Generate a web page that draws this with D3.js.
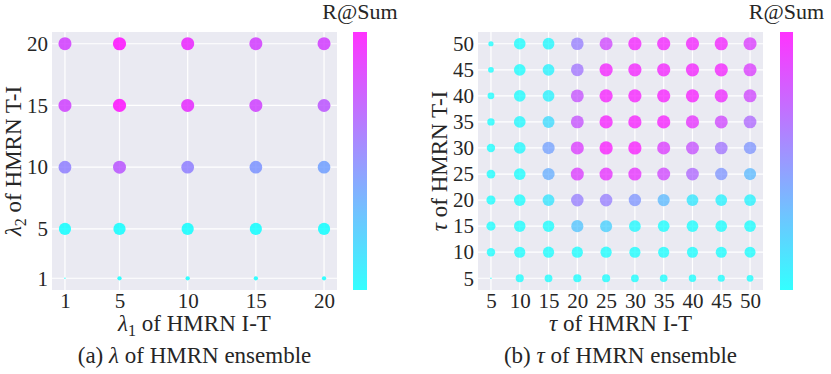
<!DOCTYPE html>
<html>
<head>
<meta charset="utf-8">
<script src="https://cdn.jsdelivr.net/npm/d3@7"></script>
<style>
  body { margin: 0; background: #fff; }
  svg text { font-family: "Liberation Serif", "Times New Roman", serif; fill: #262626; }
</style>
</head>
<body>
<div id="chart"></div>
<script>
// (a) lambda of HMRN ensemble: rows are lambda2 (T-I), columns are lambda1 (I-T)
const lambdaValues = [1, 5, 10, 15, 20];
const lambdaScores = [
  [440.0, 447.8, 447.8, 447.8, 447.8],   // lambda2 = 1
  [509.7, 510.0, 510.0, 510.0, 509.8],   // 5
  [516.4, 518.5, 516.4, 515.4, 514.8],   // 10
  [519.6, 522.0, 520.8, 519.6, 518.6],   // 15
  [519.8, 522.0, 521.0, 519.8, 519.8]    // 20
];

// (b) tau of HMRN ensemble: rows are tau T-I, columns are tau I-T
const tauValues = [5, 10, 15, 20, 25, 30, 35, 40, 45, 50];
const tauScores = [
  [420.0, 456.0, 453.0, 456.0, 456.0, 453.0, 452.0, 450.0, 448.0, 445.0],  // 5
  [459.0, 490.0, 491.0, 491.0, 491.0, 490.0, 490.0, 489.0, 489.0, 488.0],  // 10
  [466.0, 494.0, 495.0, 502.8, 501.6, 497.5, 497.0, 496.5, 496.0, 495.5],  // 15
  [466.0, 496.0, 499.5, 509.7, 509.7, 507.4, 503.9, 499.3, 498.2, 498.0],  // 20
  [463.0, 497.0, 505.0, 516.6, 517.7, 517.7, 515.4, 512.0, 507.4, 503.9],  // 25
  [459.0, 497.5, 506.2, 516.6, 519.5, 519.5, 516.6, 514.3, 510.8, 507.4],  // 30
  [450.0, 497.5, 500.5, 514.3, 519.3, 519.3, 519.3, 517.7, 515.4, 512.0],  // 35
  [445.0, 497.2, 498.2, 514.3, 519.3, 519.3, 519.3, 519.3, 518.4, 515.4],  // 40
  [438.0, 497.0, 498.0, 510.8, 518.9, 518.9, 518.9, 518.9, 518.9, 516.6],  // 45
  [434.0, 496.5, 497.5, 509.7, 515.4, 518.9, 518.9, 518.9, 518.9, 516.6]   // 50
];

const colorbarTitle = 'R@Sum';

class GridScatter {
    constructor(_config, _ticks, _scores) {
        this.config = _config;
        this.ticks = _ticks;
        this.scores = _scores;
        this.initVis();
        this.updateVis();
    }

    initVis() {
        let vis = this;
        const c = vis.config;

        vis.width = c.plot.right - c.plot.left;
        vis.height = c.plot.bottom - c.plot.top;

        vis.g = c.svg.append('g');

        // seaborn style background
        vis.g.append('rect')
            .attr('x', c.plot.left)
            .attr('y', c.plot.top)
            .attr('width', vis.width)
            .attr('height', vis.height)
            .attr('fill', '#eaeaf2');

        vis.xScale = d3.scaleLinear().range([c.plot.left, c.plot.right]);
        vis.yScale = d3.scaleLinear().range([c.plot.bottom, c.plot.top]);

        vis.colorScale = d3.scaleLinear()
            .domain(c.colorDomain)
            .range(['#00ffff', '#ff00ff'])  // matplotlib "cool"
            .clamp(true);

        vis.sizeScale = d3.scaleRadial()
            .domain(c.sizeDomain)
            .range(c.radius)
            .clamp(true);

        vis.gridG = vis.g.append('g');
        vis.pointG = vis.g.append('g');

        vis.xAxisG = vis.g.append('g')
            .attr('transform', `translate(0,${c.plot.bottom})`);
        vis.yAxisG = vis.g.append('g')
            .attr('transform', `translate(${c.plot.left},0)`);

        // x axis title
        const xt = vis.g.append('text')
            .attr('x', (c.plot.left + c.plot.right) / 2)
            .attr('y', c.xTitleY)
            .attr('text-anchor', 'middle')
            .style('font-size', '23px');
        vis.addParts(xt, c.xTitle);

        // y axis title
        const yt = vis.g.append('text')
            .attr('transform', `translate(${c.yTitleX},${(c.plot.top + c.plot.bottom) / 2}) rotate(-90)`)
            .attr('text-anchor', 'middle')
            .style('font-size', '23px');
        vis.addParts(yt, c.yTitle);

        // caption under the panel
        const cap = vis.g.append('text')
            .attr('x', (c.plot.left + c.plot.right) / 2)
            .attr('y', c.captionY)
            .attr('text-anchor', 'middle')
            .style('font-size', '23px');
        vis.addParts(cap, c.caption);

        // colorbar
        const grad = c.svg.append('defs').append('linearGradient')
            .attr('id', c.id + '-grad')
            .attr('x1', 0).attr('x2', 0).attr('y1', 1).attr('y2', 0);
        d3.range(0, 1.001, 0.1).forEach(t => {
            grad.append('stop')
                .attr('offset', t)
                .attr('stop-color', d3.interpolateRgb('#00ffff', '#ff00ff')(t));
        });
        vis.g.append('rect')
            .attr('x', c.cbar.x)
            .attr('y', c.plot.top)
            .attr('width', c.cbar.w)
            .attr('height', vis.height)
            .attr('fill', `url(#${c.id}-grad)`)
            .attr('opacity', 0.8);

        vis.g.append('text')
            .attr('x', c.cbar.x + c.cbar.w / 2)
            .attr('y', 19)
            .attr('text-anchor', 'middle')
            .style('font-size', '22px')
            .text(colorbarTitle);
    }

    addParts(textSel, parts) {
        parts.forEach(p => {
            const ts = textSel.append('tspan').text(p.text);
            if (p.italic) ts.style('font-style', 'italic');
            if (p.sub) ts.style('font-size', '16px').attr('dy', 5);
            if (p.after) ts.attr('dy', -5);
        });
    }

    updateVis() {
        let vis = this;
        const lo = d3.min(vis.ticks), hi = d3.max(vis.ticks);
        const pad = (hi - lo) * 0.05;
        vis.xScale.domain([lo - pad, hi + pad]);
        vis.yScale.domain([lo - pad, hi + pad]);

        vis.points = [];
        vis.scores.forEach((row, i) => {
            row.forEach((v, j) => {
                vis.points.push({x: vis.ticks[j], y: vis.ticks[i], value: v});
            });
        });
        vis.renderVis();
    }

    renderVis() {
        let vis = this;
        const c = vis.config;

        vis.gridG.selectAll('.vgrid')
            .data(vis.ticks)
            .join('line')
            .attr('class', 'vgrid')
            .attr('x1', d => vis.xScale(d)).attr('x2', d => vis.xScale(d))
            .attr('y1', c.plot.top).attr('y2', c.plot.bottom)
            .attr('stroke', '#fff').attr('stroke-width', 1.2);

        vis.gridG.selectAll('.hgrid')
            .data(vis.ticks)
            .join('line')
            .attr('class', 'hgrid')
            .attr('y1', d => vis.yScale(d)).attr('y2', d => vis.yScale(d))
            .attr('x1', c.plot.left).attr('x2', c.plot.right)
            .attr('stroke', '#fff').attr('stroke-width', 1.2);

        vis.pointG.selectAll('.point')
            .data(vis.points)
            .join('circle')
            .attr('class', 'point')
            .attr('cx', d => vis.xScale(d.x))
            .attr('cy', d => vis.yScale(d.y))
            .attr('r', d => vis.sizeScale(d.value))
            .attr('fill', d => vis.colorScale(d.value))
            .attr('fill-opacity', c.opacity);

        vis.xAxisG
            .call(d3.axisBottom(vis.xScale).tickValues(vis.ticks).tickSize(0).tickPadding(3))
            .call(g => g.select('.domain').remove())
            .selectAll('text')
            .style('font-size', '21px')
            .attr('fill', '#262626');

        vis.yAxisG
            .call(d3.axisLeft(vis.yScale).tickValues(vis.ticks).tickSize(0).tickPadding(4))
            .call(g => g.select('.domain').remove())
            .selectAll('text')
            .style('font-size', '21px')
            .attr('fill', '#262626');

        vis.g.selectAll('.tick text').style('font-family', '"Liberation Serif", "Times New Roman", serif');
    }
}

const svg = d3.select('#chart')
    .append('svg')
    .attr('width', 831)
    .attr('height', 374);

new GridScatter({
    svg: svg,
    id: 'lambda',
    plot: {left: 52, right: 337, top: 32, bottom: 290},
    colorDomain: [510, 522],
    sizeDomain: [440, 522],
    radius: [0.7, 6.6],
    opacity: 0.8,
    cbar: {x: 353, w: 14},
    xTitleY: 331,
    yTitleX: 21,
    captionY: 363,
    xTitle: [{text: 'λ', italic: true}, {text: '1', sub: true}, {text: ' of HMRN I-T', after: true}],
    yTitle: [{text: 'λ', italic: true}, {text: '2', sub: true}, {text: ' of HMRN T-I', after: true}],
    caption: [{text: '(a) '}, {text: 'λ', italic: true}, {text: ' of HMRN ensemble'}]
}, lambdaValues, lambdaScores);

new GridScatter({
    svg: svg,
    id: 'tau',
    plot: {left: 478, right: 763, top: 32, bottom: 290},
    colorDomain: [497, 520],
    sizeDomain: [420, 520],
    radius: [0.8, 6.65],
    opacity: 0.7,
    cbar: {x: 780, w: 13},
    xTitleY: 331,
    yTitleX: 447,
    captionY: 363,
    xTitle: [{text: 'τ', italic: true}, {text: ' of HMRN I-T'}],
    yTitle: [{text: 'τ', italic: true}, {text: ' of HMRN T-I'}],
    caption: [{text: '(b) '}, {text: 'τ', italic: true}, {text: ' of HMRN ensemble'}]
}, tauValues, tauScores);
</script>
</body>
</html>
